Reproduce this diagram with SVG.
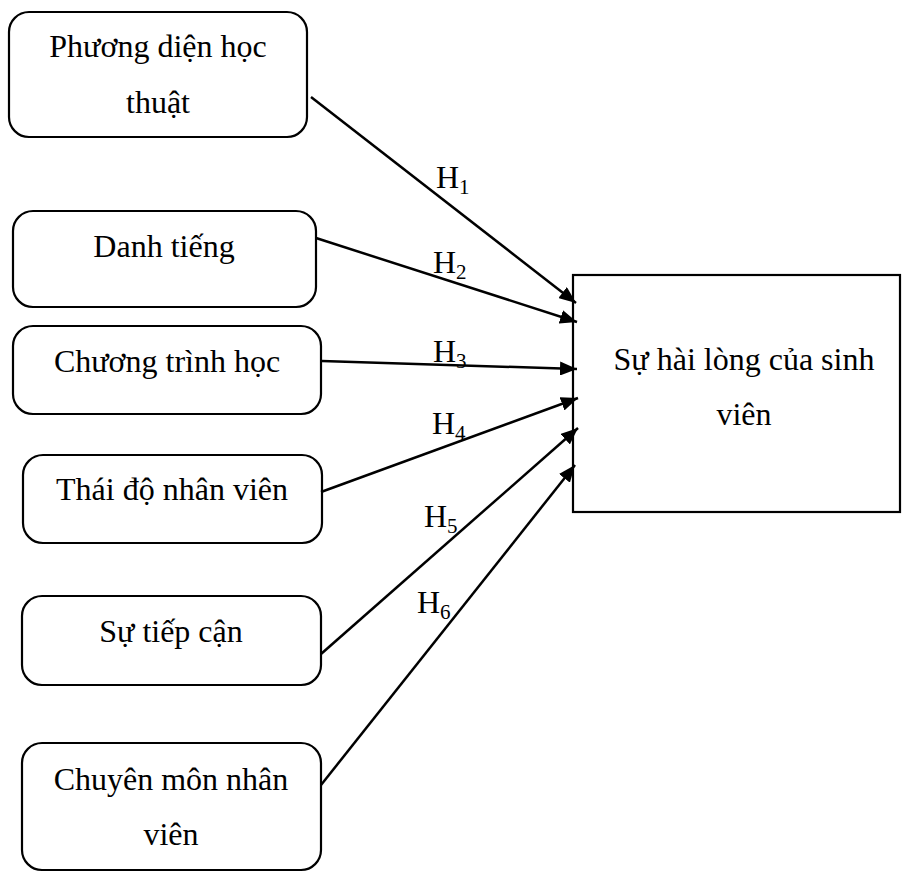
<svg xmlns="http://www.w3.org/2000/svg" width="902" height="872" viewBox="0 0 902 872">
<style>
.box{fill:#fff;stroke:#000;stroke-width:2.2}
.t{font-family:"Liberation Serif","Times New Roman",serif;font-size:32px;fill:#000;text-anchor:middle}
.h{font-family:"Liberation Serif","Times New Roman",serif;font-size:32px;fill:#000}
.sub{font-size:21px}
.c{stroke:#000;stroke-width:2.5;fill:none;marker-end:url(#arr)}
</style>
<defs>
<marker id="arr" markerUnits="userSpaceOnUse" markerWidth="18" markerHeight="14" refX="17" refY="7" orient="auto">
<path d="M0,0 L17,7 L0,14 z" fill="#000"/>
</marker>
</defs>
<rect width="902" height="872" fill="#fff"/>
<g id="n1"><rect class="box" x="9" y="12" width="298" height="125" rx="20"/><text class="t" x="158" y="57">Phương diện học</text><text class="t" x="158" y="113">thuật</text></g>
<g id="n2"><rect class="box" x="13" y="211" width="303" height="96" rx="20"/><text class="t" x="164" y="257">Danh tiếng</text></g>
<g id="n3"><rect class="box" x="13" y="326" width="308" height="88" rx="20"/><text class="t" x="167" y="372">Chương trình học</text></g>
<g id="n4"><rect class="box" x="23" y="455" width="299" height="88" rx="20"/><text class="t" x="172" y="500">Thái độ nhân viên</text></g>
<g id="n5"><rect class="box" x="22" y="596" width="299" height="89" rx="20"/><text class="t" x="171" y="642">Sự tiếp cận</text></g>
<g id="n6"><rect class="box" x="22" y="743" width="299" height="127" rx="20"/><text class="t" x="171" y="790">Chuyên môn nhân</text><text class="t" x="171" y="845">viên</text></g>
<g id="target"><rect class="box" x="573" y="275" width="327" height="237"/><text class="t" x="744" y="370">Sự hài lòng của sinh</text><text class="t" x="744" y="425">viên</text></g>
<g id="connectors">
<line class="c" x1="311" y1="97" x2="576" y2="303"/>
<line class="c" x1="316" y1="238" x2="577" y2="322"/>
<line class="c" x1="322" y1="361" x2="577" y2="369"/>
<line class="c" x1="321" y1="492" x2="578" y2="398"/>
<line class="c" x1="321" y1="654" x2="578" y2="428"/>
<line class="c" x1="321" y1="785" x2="575" y2="465"/>
</g>
<g id="labels">
<text class="h" x="436" y="188">H<tspan class="sub" dy="6">1</tspan></text>
<text class="h" x="433" y="273">H<tspan class="sub" dy="6">2</tspan></text>
<text class="h" x="433" y="362">H<tspan class="sub" dy="6">3</tspan></text>
<text class="h" x="432" y="434">H<tspan class="sub" dy="6">4</tspan></text>
<text class="h" x="424" y="527">H<tspan class="sub" dy="6">5</tspan></text>
<text class="h" x="417" y="613">H<tspan class="sub" dy="6">6</tspan></text>
</g>
</svg>
